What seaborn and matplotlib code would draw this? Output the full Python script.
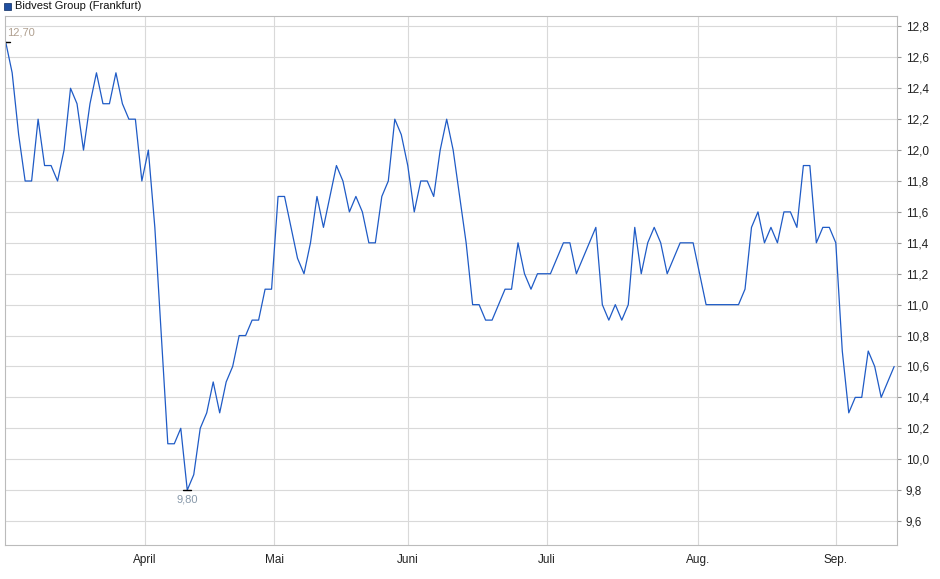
"""Bidvest Group (Frankfurt) price chart."""

import matplotlib

matplotlib.use("Agg")
import matplotlib.pyplot as plt
import seaborn as sns

PRICES = [
    12.7, 12.5, 12.1, 11.8, 11.8, 12.2, 11.9, 11.9, 11.8, 12.0,
    12.4, 12.3, 12.0, 12.3, 12.5, 12.3, 12.3, 12.5, 12.3, 12.2,
    12.2, 11.8, 12.0, 11.5, 10.8, 10.1, 10.1, 10.2, 9.8, 9.9,
    10.2, 10.3, 10.5, 10.3, 10.5, 10.6, 10.8, 10.8, 10.9, 10.9,
    11.1, 11.1, 11.7, 11.7, 11.5, 11.3, 11.2, 11.4, 11.7, 11.5,
    11.7, 11.9, 11.8, 11.6, 11.7, 11.6, 11.4, 11.4, 11.7, 11.8,
    12.2, 12.1, 11.9, 11.6, 11.8, 11.8, 11.7, 12.0, 12.2, 12.0,
    11.7, 11.4, 11.0, 11.0, 10.9, 10.9, 11.0, 11.1, 11.1, 11.4,
    11.2, 11.1, 11.2, 11.2, 11.2, 11.3, 11.4, 11.4, 11.2, 11.3,
    11.4, 11.5, 11.0, 10.9, 11.0, 10.9, 11.0, 11.5, 11.2, 11.4,
    11.5, 11.4, 11.2, 11.3, 11.4, 11.4, 11.4, 11.2, 11.0, 11.0,
    11.0, 11.0, 11.0, 11.0, 11.1, 11.5, 11.6, 11.4, 11.5, 11.4,
    11.6, 11.6, 11.5, 11.9, 11.9, 11.4, 11.5, 11.5, 11.4, 10.7,
    10.3, 10.4, 10.4, 10.7, 10.6, 10.4, 10.5, 10.6,
]
MONTH_LABELS = ["April", "Mai", "Juni", "Juli", "Aug.", "Sep."]
MONTH_POS = [21.5, 41.4, 62.0, 83.4, 106.8, 128.0]
Y_TICKS = [9.6, 9.8, 10.0, 10.2, 10.4, 10.6, 10.8, 11.0, 11.2, 11.4, 11.6, 11.8, 12.0, 12.2, 12.4, 12.6, 12.8]

LINE = "#1f5bc6"
GRID = "#d9d9d9"


def main() -> None:
    sns.set_style("white")
    plt.rcParams["font.family"] = ["Liberation Sans", "DejaVu Sans"]
    fig = plt.figure(figsize=(9.4, 5.79), dpi=100)
    ax = fig.add_axes([0.005, 0.0587, 0.949, 0.913])

    days = list(range(len(PRICES)))
    sns.lineplot(x=days, y=PRICES, ax=ax, color=LINE, linewidth=0.9)

    ax.set_xlim(-0.15, len(PRICES) - 0.6)
    ax.set_ylim(9.445, 12.865)
    ax.set_yticks(Y_TICKS)
    ax.set_yticklabels([f"{v:.1f}".replace(".", ",") for v in Y_TICKS], fontsize=8.5)
    ax.set_xticks(MONTH_POS)
    ax.set_xticklabels(MONTH_LABELS, fontsize=8.5)
    ax.yaxis.tick_right()
    ax.tick_params(length=3, color="#999999", labelcolor="#222222")
    ax.grid(True, color=GRID, linewidth=0.8)
    for side in ["left", "top", "right", "bottom"]:
        ax.spines[side].set_color("#bbbbbb")
        ax.spines[side].set_linewidth(0.8)

    # high / low markers
    hi = PRICES.index(max(PRICES))
    lo = PRICES.index(min(PRICES))
    ax.plot([hi - 0.6, hi + 0.6], [PRICES[hi]] * 2, color="black", lw=1)
    ax.plot([lo - 0.6, lo + 0.6], [PRICES[lo]] * 2, color="black", lw=1)
    ax.annotate(f"{PRICES[hi]:.2f}".replace(".", ","), (hi, PRICES[hi]), xytext=(1, 3),
                textcoords="offset points", fontsize=8, color="#b0a090", ha="left", va="bottom")
    ax.annotate(f"{PRICES[lo]:.2f}".replace(".", ","), (lo, PRICES[lo]), xytext=(0, -3),
                textcoords="offset points", fontsize=8, color="#8899aa", ha="center", va="top")

    fig.patches.append(plt.Rectangle((0.004, 0.983), 0.008, 0.012, transform=fig.transFigure,
                                     facecolor="#1f4fa0", edgecolor="#0a2a60", lw=0.5))
    fig.text(0.016, 0.989, "Bidvest Group (Frankfurt)", fontsize=8, va="center", color="#111111")

    fig.savefig("out.png", dpi=100)
    plt.close(fig)


if __name__ == "__main__":
    main()
